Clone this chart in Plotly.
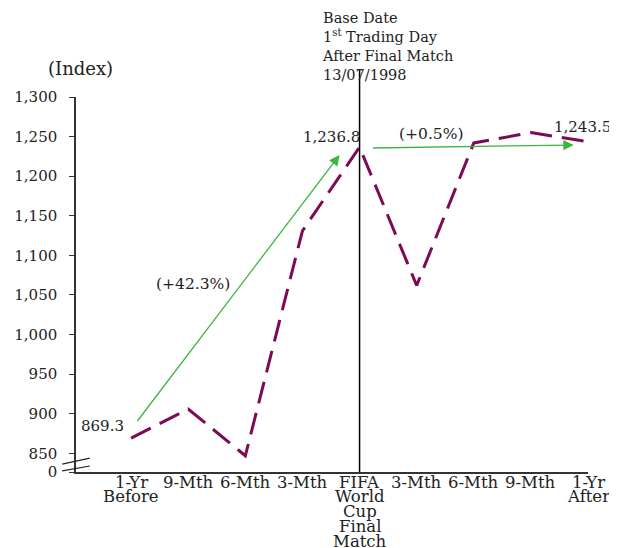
import plotly.graph_objects as go

categories = ["1-Yr<br>Before", "9-Mth", "6-Mth", "3-Mth",
              "FIFA<br>World<br>Cup<br>Final<br>Match",
              "3-Mth", "6-Mth", "9-Mth", "1-Yr<br>After"]
index_values = [869.3, 906, 847, 1131, 1236.8, 1062, 1242, 1255, 1243.5]
y_tick_values = [850, 900, 950, 1000, 1050, 1100, 1150, 1200, 1250, 1300]
y_tick_labels = ["850", "900", "950", "1,000", "1,050", "1,100", "1,150", "1,200", "1,250", "1,300"]
axis_bottom = 826.5  # where "0" sits on the broken axis

FONT = "DejaVu Serif"
LINE_COLOR = "#7D0A52"
GREEN = "#3DB53D"
TXT = "#222"

x_idx = list(range(len(categories)))

fig = go.Figure()
fig.add_trace(go.Scatter(
    x=x_idx, y=index_values, mode="lines",
    line=dict(color=LINE_COLOR, width=3, dash="22px,10px"),
    hoverinfo="skip", showlegend=False,
))

fig.update_layout(
    width=609, height=540,
    margin=dict(l=68, r=29, t=89, b=76),
    paper_bgcolor="white", plot_bgcolor="white",
    font=dict(family=FONT, size=15, color=TXT),
    xaxis=dict(
        range=[-0.965, 8.0], tickmode="array", tickvals=x_idx,
        showticklabels=False, automargin=False,
        showgrid=False, zeroline=False, showline=True, linecolor="#333", linewidth=1.5,
        ticks="",
    ),
    yaxis=dict(
        range=[axis_bottom, 1300], tickmode="array", automargin=False,
        tickvals=[axis_bottom] + y_tick_values, ticktext=["0"] + y_tick_labels,
        showgrid=False, zeroline=False, showline=True, linecolor="#333", linewidth=1.5,
        ticks="outside", ticklen=5, tickcolor="#333", ticklabelstandoff=9,
        tickfont=dict(family=FONT, size=15, color=TXT),
    ),
)

# category labels, one line at a time for tight line spacing
for xi, label in zip(x_idx, categories):
    for li, part in enumerate(label.split("<br>")):
        fig.add_annotation(x=xi, y=0, xref="x", yref="paper", text=part,
                           showarrow=False, xanchor="center", yanchor="middle",
                           yshift=-(10 + 14.8 * li), font=dict(size=16.5, color=TXT))

# vertical base-date line
fig.add_shape(type="line", xref="x", yref="paper", x0=4, x1=4, y0=0, y1=1.072,
              line=dict(color="black", width=1.5))

# axis break marks
for (ya, yb) in [(0.021, 0.037), (0.003, 0.016)]:
    fig.add_shape(type="line", xref="paper", yref="paper", x0=-0.027, x1=0.027,
                  y0=ya, y1=yb, line=dict(color=TXT, width=1.2))

# green arrows
fig.add_annotation(x=3.65, y=1226.7, ax=0.09, ay=889, xref="x", yref="y",
                   axref="x", ayref="y", text="", showarrow=True,
                   arrowhead=2, arrowsize=1.6, arrowwidth=1.3, arrowcolor=GREEN)
fig.add_annotation(x=7.75, y=1239.4, ax=4.21, ay=1235.6, xref="x", yref="y",
                   axref="x", ayref="y", text="", showarrow=True,
                   arrowhead=2, arrowsize=1.6, arrowwidth=1.3, arrowcolor=GREEN)

# labels
fig.add_annotation(x=0, y=index_values[0], text="869.3", showarrow=False,
                   xanchor="right", xshift=-5, yshift=12)
fig.add_annotation(x=4, y=index_values[4], text="1,236.8", showarrow=False,
                   xanchor="right", xshift=2, yshift=10)
fig.add_annotation(x=8, y=index_values[8], text="1,243.5", showarrow=False,
                   xanchor="right", xshift=25, yshift=15)
fig.add_annotation(x=1.09, y=1063.6, text="(+42.3%)", showarrow=False,
                   font=dict(size=15.5))
fig.add_annotation(x=5.25, y=1253, text="(+0.5%)", showarrow=False,
                   font=dict(size=15.5))

fig.add_annotation(xref="paper", yref="paper", x=0.008, y=1.077, text="(Index)",
                   xanchor="center", yanchor="middle",
                   showarrow=False, font=dict(size=18))
fig.add_annotation(xref="paper", yref="paper", x=0.4766, y=1.237, xanchor="left",
                   yanchor="top", align="left", showarrow=False,
                   text="Base Date<br>1<sup>st</sup> Trading Day<br>After Final Match<br>13/07/1998",
                   font=dict(size=14.5))

fig.write_html("out.html")
